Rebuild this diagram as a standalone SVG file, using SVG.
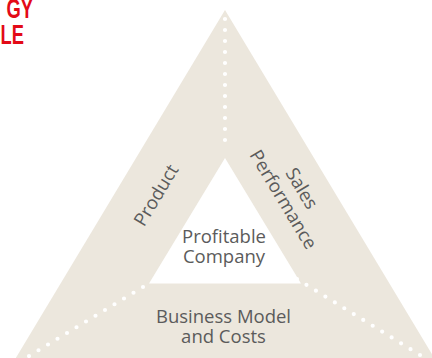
<svg xmlns="http://www.w3.org/2000/svg" width="432" height="358" viewBox="0 0 432 358">
<defs>
<style>
.lbl{font-family:"Open Sans","Noto Sans","DejaVu Sans",sans-serif;font-size:18.5px;fill:#5b5b5b;text-anchor:middle}
.red{font-family:"Liberation Sans",Arial,sans-serif;font-weight:bold;font-size:27px;fill:#e30a17;text-anchor:end}
.dots{fill:none;stroke:#ffffff;stroke-width:4.2;stroke-linecap:round;stroke-dasharray:0 1}
</style>
</defs>
<rect width="432" height="358" fill="#ffffff"/>
<g id="title">
<text class="red" transform="translate(33,18) scale(0.68,1)">GY</text>
<text class="red" transform="translate(24,44) scale(0.68,1)">LE</text>
</g>
<g id="pyramid">
<polygon points="225,10 11,366 439,366" fill="#ece7dd"/>
<polygon points="225,158 149,283.5 301,283.5" fill="#ffffff"/>
</g>
<g id="connectors">
<path class="dots" d="M225,19 L225,151" pathLength="12"/>
<path class="dots" d="M143,287 L29,356" pathLength="12"/>
<path class="dots" d="M297,279 L420,355" pathLength="13"/>
</g>
<g id="product">
<text class="lbl" transform="translate(156,195) rotate(-59)" y="6.5">Product</text>
</g>
<g id="sales">
<g transform="translate(292.5,194) rotate(59)">
<text class="lbl" y="-4.5">Sales</text>
<text class="lbl" y="17">Performance</text>
</g>
</g>
<g id="profitable">
<text class="lbl" x="224" y="243">Profitable</text>
<text class="lbl" x="224" y="262.5">Company</text>
</g>
<g id="business">
<text class="lbl" x="223.5" y="323">Business Model</text>
<text class="lbl" x="223.5" y="342.5">and Costs</text>
</g>
</svg>
